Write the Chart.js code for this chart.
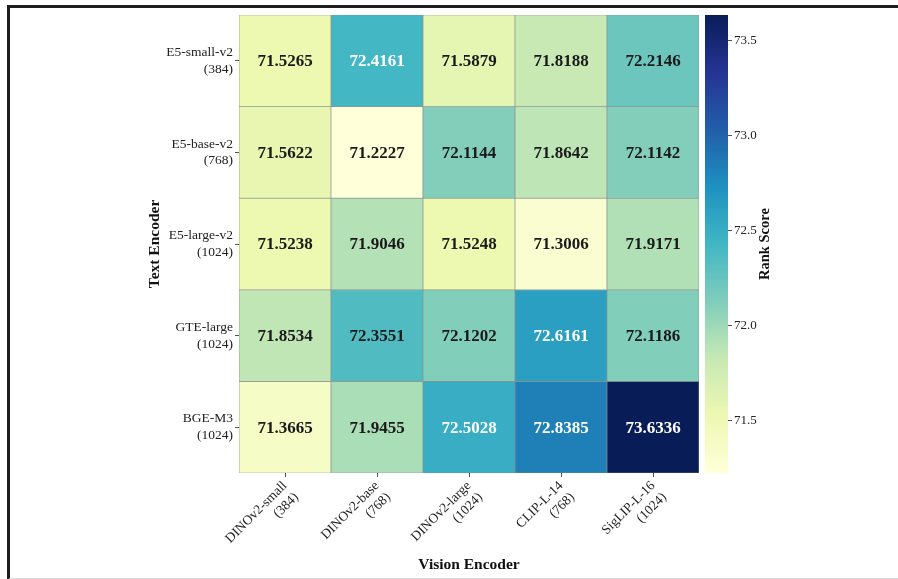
<!DOCTYPE html>
<html>
<head>
<meta charset="utf-8">
<script src="https://cdn.jsdelivr.net/npm/chart.js@4.4.1/dist/chart.umd.min.js"></script>
<style>
  html, body { margin: 0; padding: 0; background: #fff; }
  #wrap { position: relative; width: 898px; height: 579px; overflow: hidden; }
  #frame { position: absolute; left: 7px; top: 5px; width: 900px; height: 570px;
           border-top: 3px solid #1e1e1e; border-left: 3px solid #1e1e1e; border-bottom: 2px solid #ddd; }
  canvas { position: absolute; left: 0; top: 0; }
</style>
</head>
<body>
<div id="wrap">
  <div id="frame"></div>
  <canvas id="heat" width="898" height="579"></canvas>
  <canvas id="bar" width="898" height="579"></canvas>
</div>
<script>
// vision encoders (columns) and text encoders (rows, top to bottom)
const visionEncoders = [
  ['DINOv2-small', '(384)'],
  ['DINOv2-base', '(768)'],
  ['DINOv2-large', '(1024)'],
  ['CLIP-L-14', '(768)'],
  ['SigLIP-L-16', '(1024)']
];
const textEncoders = [
  ['E5-small-v2', '(384)'],
  ['E5-base-v2', '(768)'],
  ['E5-large-v2', '(1024)'],
  ['GTE-large', '(1024)'],
  ['BGE-M3', '(1024)']
];

// rank scores, one row per text encoder
const e5Small = [71.5265, 72.4161, 71.5879, 71.8188, 72.2146];
const e5Base  = [71.5622, 71.2227, 72.1144, 71.8642, 72.1142];
const e5Large = [71.5238, 71.9046, 71.5248, 71.3006, 71.9171];
const gteLarge = [71.8534, 72.3551, 72.1202, 72.6161, 72.1186];
const bgeM3   = [71.3665, 71.9455, 72.5028, 72.8385, 73.6336];
const scores = [e5Small, e5Base, e5Large, gteLarge, bgeM3];

const cbTicks = [71.5, 72.0, 72.5, 73.0, 73.5];

// YlGnBu
const ylgnbu = ['#ffffd9', '#edf8b1', '#c7e9b4', '#7fcdbb', '#41b6c4', '#1d91c0', '#225ea8', '#253494', '#081d58'];

const FONT = '"Liberation Serif", "Times New Roman", serif';
const allVals = scores.flat();
const vmin = Math.min(...allVals);
const vmax = Math.max(...allVals);

function hexRgb(h) {
  return [parseInt(h.slice(1, 3), 16), parseInt(h.slice(3, 5), 16), parseInt(h.slice(5, 7), 16)];
}
function cmap(v) {
  let t = (v - vmin) / (vmax - vmin);
  t = Math.max(0, Math.min(1, t));
  const p = t * (ylgnbu.length - 1);
  const i = Math.min(Math.floor(p), ylgnbu.length - 2);
  const f = p - i;
  const a = hexRgb(ylgnbu[i]), b = hexRgb(ylgnbu[i + 1]);
  return a.map((c, k) => Math.round(c + (b[k] - c) * f));
}
function luminance(rgb) {
  const l = rgb.map(c => {
    c = c / 255;
    return c <= 0.03928 ? c / 12.92 : Math.pow((c + 0.055) / 1.055, 2.4);
  });
  return 0.2126 * l[0] + 0.7152 * l[1] + 0.0722 * l[2];
}
const rgbStr = c => 'rgb(' + c.join(',') + ')';

const nRows = textEncoders.length;

// one floating-bar dataset per row
const datasets = scores.map((row, r) => ({
  data: row.map(() => [nRows - 1 - r, nRows - r]),
  vals: row,
  backgroundColor: row.map(v => rgbStr(cmap(v))),
  borderColor: '#8c9490',
  borderWidth: 0.7,
  borderSkipped: false,
  grouped: false,
  barPercentage: 1,
  categoryPercentage: 1
}));

const annotate = {
  id: 'annotate',
  afterDatasetsDraw(chart) {
    const ctx = chart.ctx;
    ctx.save();
    ctx.font = 'bold 17px ' + FONT;
    ctx.textAlign = 'center';
    ctx.textBaseline = 'middle';
    chart.data.datasets.forEach((ds, di) => {
      chart.getDatasetMeta(di).data.forEach((el, i) => {
        const v = ds.vals[i];
        ctx.fillStyle = luminance(cmap(v)) > 0.408 ? '#1a1a1a' : '#ffffff';
        ctx.fillText(v.toFixed(4), el.x, (el.y + el.base) / 2 + 1);
      });
    });
    ctx.restore();
  }
};

new Chart(document.getElementById('heat'), {
  type: 'bar',
  data: { labels: visionEncoders, datasets: datasets },
  options: {
    responsive: false,
    animation: false,
    layout: { padding: { top: 15, right: 199, bottom: 5, left: 146 } },
    plugins: { legend: { display: false }, tooltip: { enabled: false } },
    scales: {
      x: {
        afterFit(s) { s.height = 101; s.paddingLeft = 0; s.paddingRight = 0; },
        grid: { drawOnChartArea: false, offset: false, tickLength: 4, color: '#555' },
        border: { display: false },
        ticks: { minRotation: 45, maxRotation: 45, padding: 1, color: '#222',
                 font: { family: FONT, size: 13.5, lineHeight: 1.2 } },
        title: { display: true, text: 'Vision Encoder', color: '#111', padding: 0,
                 font: { family: FONT, size: 15.5, weight: 'bold' } }
      },
      y: {
        min: 0, max: nRows,
        afterFit(s) { s.width = 93; s.paddingTop = 0; s.paddingBottom = 0; },
        afterBuildTicks(s) { s.ticks = textEncoders.map((_, i) => ({ value: i + 0.5 })); },
        grid: { drawOnChartArea: false, tickLength: 4, color: '#555' },
        border: { display: false },
        ticks: {
          padding: 2, color: '#222',
          font: { family: FONT, size: 13.5, lineHeight: 1.25 },
          callback: v => textEncoders[nRows - 1 - Math.floor(v)]
        },
        title: { display: true, text: 'Text Encoder', color: '#111', padding: 0,
                 font: { family: FONT, size: 15.5, weight: 'bold' } }
      }
    }
  },
  plugins: [annotate]
});

// colorbar
const cbTitle = {
  id: 'cbTitle',
  afterDraw(chart) {
    const ctx = chart.ctx;
    const a = chart.chartArea;
    ctx.save();
    ctx.translate(a.right + 37, (a.top + a.bottom) / 2);
    ctx.rotate(-Math.PI / 2);
    ctx.font = 'bold 14.5px ' + FONT;
    ctx.fillStyle = '#111';
    ctx.textAlign = 'center';
    ctx.textBaseline = 'middle';
    ctx.fillText('Rank Score', 0, 0);
    ctx.restore();
  }
};

new Chart(document.getElementById('bar'), {
  type: 'bar',
  data: {
    labels: ['Rank Score'],
    datasets: [{
      data: [[vmin, vmax]],
      barPercentage: 1,
      categoryPercentage: 1,
      borderWidth: 0,
      backgroundColor(c) {
        const chart = c.chart;
        if (!chart.chartArea) return ylgnbu[4];
        const y = chart.scales.y;
        const g = chart.ctx.createLinearGradient(0, y.getPixelForValue(vmin), 0, y.getPixelForValue(vmax));
        ylgnbu.forEach((col, i) => g.addColorStop(i / (ylgnbu.length - 1), col));
        return g;
      }
    }]
  },
  options: {
    responsive: false,
    animation: false,
    layout: { padding: { top: 15, right: 0, bottom: 106, left: 705 } },
    plugins: { legend: { display: false }, tooltip: { enabled: false } },
    scales: {
      x: { display: false },
      y: {
        position: 'right',
        min: vmin, max: vmax,
        afterFit(s) { s.width = 170; s.paddingTop = 0; s.paddingBottom = 0; },
        afterBuildTicks(s) { s.ticks = cbTicks.map(v => ({ value: v })); },
        grid: { drawOnChartArea: false, tickLength: 4, color: '#555' },
        border: { display: false },
        ticks: { padding: 2, color: '#222', font: { family: FONT, size: 13 },
                 callback: v => v.toFixed(1) }
      }
    }
  },
  plugins: [cbTitle]
});
</script>
</body>
</html>
